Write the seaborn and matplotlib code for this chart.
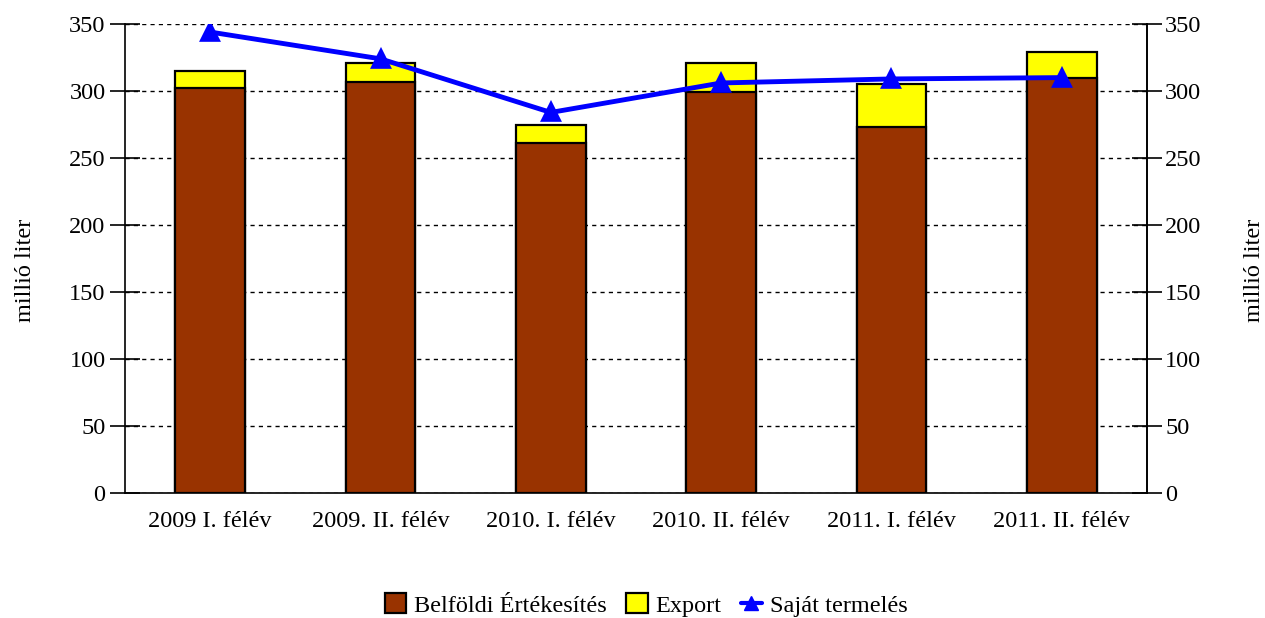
import numpy as np
import pandas as pd
import matplotlib
matplotlib.use("Agg")
import matplotlib.pyplot as plt
import seaborn as sns
from matplotlib.patches import Patch
from matplotlib.lines import Line2D

# ── data ──────────────────────────────────────────────────────────────────────
periods   = ["2009 I. félév", "2009. II. félév", "2010. I. félév",
             "2010. II. félév", "2011. I. félév", "2011. II. félév"]
belfoldi  = [302, 307, 261, 299, 273, 310]
export    = [13, 14, 14, 22, 32, 19]
sajat     = [344, 324, 284, 306, 309, 310]

df = pd.DataFrame({"period": periods, "belfoldi": belfoldi, "export": export, "sajat": sajat})
df["total"] = df["belfoldi"] + df["export"]

# ── figure ────────────────────────────────────────────────────────────────────
sns.set_style("white")
plt.rcParams["font.family"] = ["Liberation Serif", "DejaVu Serif"]
plt.rcParams["font.size"] = 17.5
for key in ["text.color", "axes.labelcolor", "xtick.color", "ytick.color"]:
    plt.rcParams[key] = "black"

fig = plt.figure(figsize=(12.65, 6.18), dpi=100)
ax = fig.add_axes([125 / 1265, 1 - 493 / 618, 1022 / 1265, 469 / 618])

brown, yellow = "#993300", "#FFFF00"

sns.barplot(data=df, x="period", y="total", color=yellow, width=0.41,
            edgecolor="black", linewidth=1.6, saturation=1, ax=ax)
sns.barplot(data=df, x="period", y="belfoldi", color=brown, width=0.41,
            edgecolor="black", linewidth=1.6, saturation=1, ax=ax)
sns.pointplot(data=df, x="period", y="sajat", color="#0000FF", markers="^",
              markersize=12, linewidth=3.5, ax=ax)

ax.set_ylim(0, 350)
ax.set_xlim(-0.5, 5.5)
ax.set_yticks(np.arange(0, 351, 50))
ax.yaxis.grid(True, color="black", linestyle=(0, (3, 3)), linewidth=1)
ax.set_axisbelow(True)
ax.set_xlabel("")
ax.set_ylabel("")

# category boundary ticks on x
ax.set_xticks(np.arange(-0.5, 6, 1), minor=True)
ax.tick_params(axis="x", which="major", length=0, pad=13)
ax.tick_params(axis="x", which="minor", length=7, width=1.2, direction="out")
ax.tick_params(axis="y", length=22, width=1.2, direction="inout", left=True, pad=3)

ax.spines["top"].set_visible(False)
for side in ["left", "right", "bottom"]:
    ax.spines[side].set_visible(True)
    ax.spines[side].set_color("black")
    ax.spines[side].set_linewidth(1.2)

# right axis mirrors left
ax2 = ax.twinx()
ax2.set_ylim(ax.get_ylim())
ax2.set_yticks(np.arange(0, 351, 50))
ax2.tick_params(axis="y", length=22, width=1.2, direction="inout", right=True, pad=2)
for side in ["top", "left", "bottom"]:
    ax2.spines[side].set_visible(False)
ax2.spines["right"].set_color("black")
ax2.spines["right"].set_linewidth(1.2)

fig.text(26 / 1265, 1 - 270 / 618, "millió liter", rotation=90, ha="center", va="center")
fig.text(1254 / 1265, 1 - 270 / 618, "millió liter", rotation=90, ha="center", va="center")

handles = [
    Patch(facecolor=brown, edgecolor="black", linewidth=1.6, label="Belföldi Értékesítés"),
    Patch(facecolor=yellow, edgecolor="black", linewidth=1.6, label="Export"),
    Line2D([0], [0], color="#0000FF", lw=3, marker="^", markersize=10, label="Saját termelés"),
]
fig.legend(handles=handles, loc="center", bbox_to_anchor=(646 / 1265, 1 - 605 / 618), ncol=3,
           frameon=False, handlelength=0.9, handleheight=0.9, handletextpad=0.3,
           columnspacing=0.8, fontsize=17.5)

fig.savefig("out.png", dpi=100)
